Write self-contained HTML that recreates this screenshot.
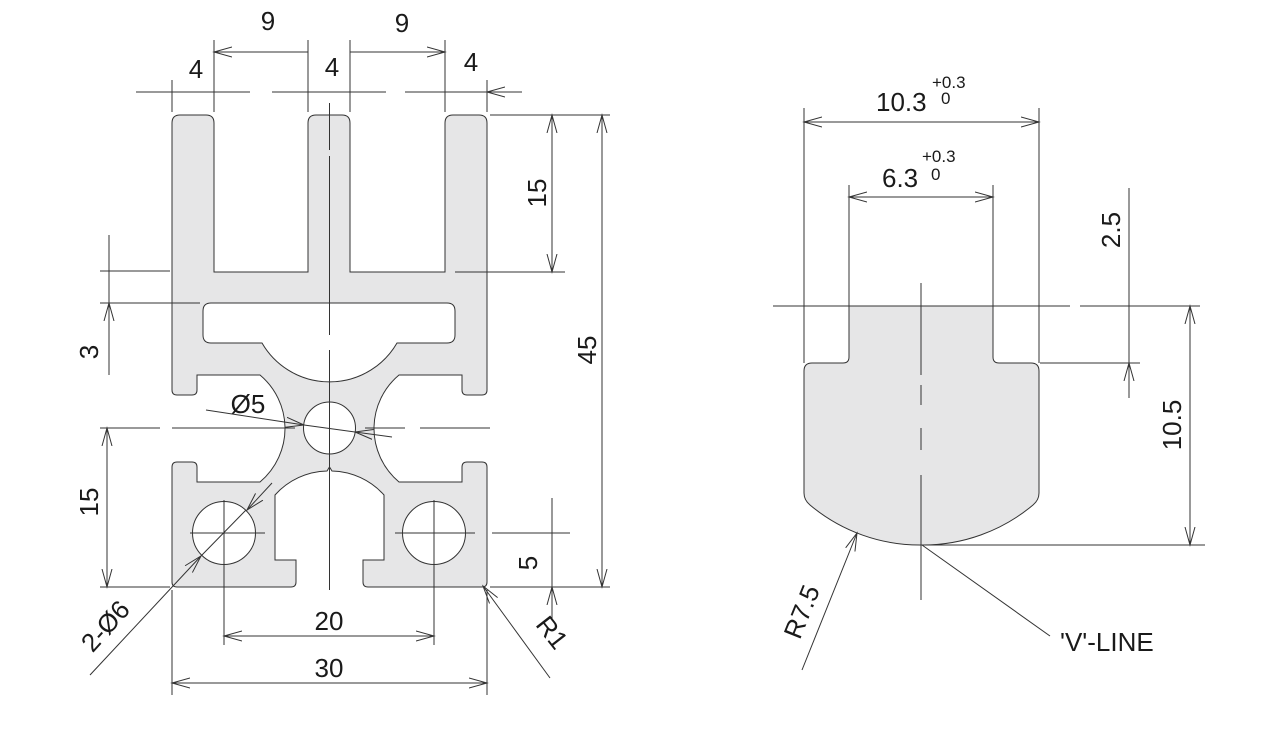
<!DOCTYPE html>
<html><head><meta charset="utf-8"><style>
html,body{margin:0;padding:0;background:#fff;}
svg{display:block;}
text{font-family:"Liberation Sans",Arial,sans-serif;fill:#1a1a1a;}
</style></head><body>
<svg width="1261" height="752" viewBox="0 0 1261 752" xmlns="http://www.w3.org/2000/svg">
<defs>
<marker id="a" markerUnits="userSpaceOnUse" markerWidth="24" markerHeight="14" refX="18" refY="5" orient="auto-start-reverse" viewBox="0 0 24 10">
<path d="M0,0 L18,5 L0,10" fill="none" stroke="#333" stroke-width="1"/>
</marker>
</defs>
<g stroke="#333" stroke-width="1" fill="none">
<path fill="#e6e6e7" fill-rule="evenodd" d="M172,123 Q172,115 180,115 L206,115 Q214,115 214,123 L214,272 L308,272 L308,123 Q308,115 316,115 L342,115 Q350,115 350,123 L350,272 L445,272 L445,123 Q445,115 453,115 L479,115 Q487,115 487,123 L487,390 Q487,395 482,395 L467,395 Q462,395 462,390 L462,375 L399,375 A70,70 0 0 0 374,427 A70,70 0 0 0 399,482 L462,482 L462,467 Q462,462 467,462 L482,462 Q487,462 487,467 L487,582 Q487,587 482,587 L368,587 Q363,587 363,582 L363,560 L384,560 L384,495 A72,72 0 0 0 332,471 L329.5,467 L327,471 A72,72 0 0 0 275,495 L275,560 L296,560 L296,582 Q296,587 291,587 L177,587 Q172,587 172,582 L172,467 Q172,462 177,462 L192,462 Q197,462 197,467 L197,482 L260,482 A70,70 0 0 0 285,427 A70,70 0 0 0 260,375 L197,375 L197,390 Q197,395 192,395 L177,395 Q172,395 172,390 Z
M211,303 L447,303 Q455,303 455,311 L455,335 Q455,343 447,343 L397,343 A78,78 0 0 1 262,343 L211,343 Q203,343 203,335 L203,311 Q203,303 211,303 Z"/>
<circle cx="329.5" cy="428" r="26" fill="#fff"/>
<circle cx="224" cy="533" r="31.5" fill="#fff"/>
<circle cx="434" cy="533" r="31.5" fill="#fff"/>
<path d="M329.5,103 V150 M329.5,156 V335 M329.5,350 V590" />
<path d="M100,428 H160 M172,428 H295 M365,428 H405 M420,428 H490" />
<path d="M190,533 H265 M395,533 H475 M492,533 H570 M224,500 V645 M434,500 V645" />
<path d="M172,80 V112 M214,40 V112 M308,40 V112 M350,40 V112 M445,40 V112 M487,80 V112"/>
<path d="M214,52 H308 M350,52 H445" marker-start="url(#a)" marker-end="url(#a)"/>
<path d="M136,92 H172 M250,92 H214 M272,92 H308 M386,92 H350 M405,92 H445 M522,92 H487" marker-end="url(#a)"/>
<path d="M172,92 H214 M308,92 H350 M445,92 H487"/>
<path d="M490,115 H610 M455,272 H565 M490,587 H610"/>
<path d="M552,115 V272" marker-start="url(#a)" marker-end="url(#a)"/>
<path d="M602,115 V587" marker-start="url(#a)" marker-end="url(#a)"/>
<path d="M552,498 V533 M552,620 V587" marker-end="url(#a)"/>
<path d="M552,533 V587"/>
<path d="M100,271 H170 M100,303 H200 M100,587 H170"/>
<path d="M109,235 V271 M109,375 V303" marker-end="url(#a)"/>
<path d="M109,271 V303"/>
<path d="M107,428 V587" marker-start="url(#a)" marker-end="url(#a)"/>
<path d="M172,590 V695 M487,590 V695"/>
<path d="M224,636 H434" marker-start="url(#a)" marker-end="url(#a)"/>
<path d="M172,683 H487" marker-start="url(#a)" marker-end="url(#a)"/>
<path d="M90,675 L201,556" marker-end="url(#a)"/>
<path d="M201,556 L246,510"/>
<path d="M272,483 L247,510" marker-end="url(#a)"/>
<path d="M550,678 L483,586" marker-end="url(#a)"/>
<path d="M206,410 L304,425" marker-end="url(#a)"/>
<path d="M304,425 L355,432"/>
<path d="M392,437 L355,432" marker-end="url(#a)"/>
<path fill="#e6e6e7" d="M812,363 L843,363 Q849,363 849,357 L849,306 L993,306 L993,357 Q993,363 999,363 L1031,363 Q1039,363 1039,371 L1039,493 Q1039,500 1033,505 A171,171 0 0 1 922,545 A171,171 0 0 1 810,505 Q804,500 804,493 L804,371 Q804,363 812,363 Z"/>
<path d="M921,283 V375 M921,385 V405 M921,428 V450 M921,475 V600"/>
<path d="M804,108 V363 M1039,108 V363 M849,185 V306 M993,185 V306"/>
<path d="M804,122 H1039" marker-start="url(#a)" marker-end="url(#a)"/>
<path d="M849,197 H993" marker-start="url(#a)" marker-end="url(#a)"/>
<path d="M773,306 H849 M993,306 H1070 M1080,306 H1200 M1040,363 H1140 M925,545 H1205"/>
<path d="M1129,188 V306 M1129,398 V363" marker-end="url(#a)"/>
<path d="M1129,306 V363"/>
<path d="M1190,306 V545" marker-start="url(#a)" marker-end="url(#a)"/>
<path d="M802,670 L857,533" marker-end="url(#a)"/>
<path d="M922,545 L1050,636"/>
</g>
<g font-size="26">
<text x="268" y="30" text-anchor="middle">9</text>
<text x="402" y="32" text-anchor="middle">9</text>
<text x="196" y="78" text-anchor="middle">4</text>
<text x="332" y="76" text-anchor="middle">4</text>
<text x="471" y="71" text-anchor="middle">4</text>
<text transform="translate(546,193) rotate(-90)" text-anchor="middle">15</text>
<text transform="translate(596,350) rotate(-90)" text-anchor="middle">45</text>
<text transform="translate(98,352) rotate(-90)" text-anchor="middle">3</text>
<text transform="translate(98,502) rotate(-90)" text-anchor="middle">15</text>
<text transform="translate(537,563) rotate(-90)" text-anchor="middle">5</text>
<text x="329" y="630" text-anchor="middle">20</text>
<text x="329" y="677" text-anchor="middle">30</text>
<text transform="translate(112,632) rotate(-48)" text-anchor="middle">2-Ø6</text>
<text transform="translate(545,638) rotate(52)" text-anchor="middle">R1</text>
<text x="248" y="413" text-anchor="middle">Ø5</text>
<text x="876" y="111">10.3</text>
<text x="882" y="187">6.3</text>
<text transform="translate(1120,230) rotate(-90)" text-anchor="middle">2.5</text>
<text transform="translate(1181,425) rotate(-90)" text-anchor="middle">10.5</text>
<text transform="translate(810,615) rotate(-68)" text-anchor="middle">R7.5</text>
<text x="1060" y="651">'V'-LINE</text>
</g>
<g font-size="17">
<text x="932" y="88">+0.3</text>
<text x="941" y="104">0</text>
<text x="922" y="162">+0.3</text>
<text x="931" y="180">0</text>
</g>
</svg>
</body></html>
